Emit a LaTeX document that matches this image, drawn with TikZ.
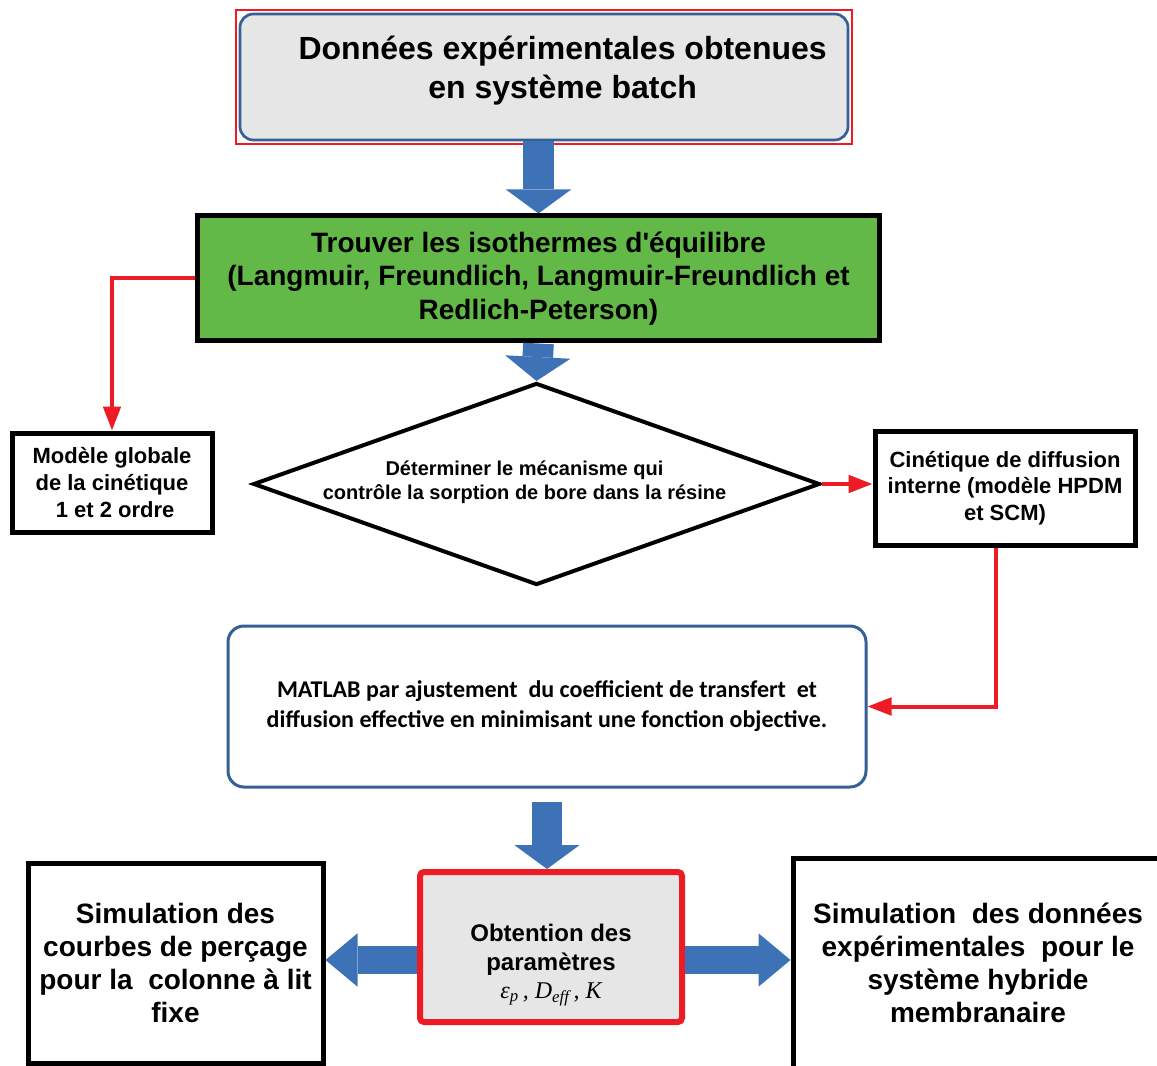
\documentclass[tikz,border=0pt]{standalone}
\usepackage{fontspec}
\setmainfont{Liberation Sans}
\newfontfamily\calibri{Carlito}
\newfontfamily\timesfont{Liberation Serif}
\usetikzlibrary{positioning,arrows.meta,shapes.geometric,calc}

\definecolor{boxgray}{RGB}{230,230,230}
\definecolor{isogreen}{RGB}{99,185,71}
\definecolor{arrowblue}{RGB}{62,114,182}
\definecolor{frameblue}{RGB}{52,96,148}
\definecolor{linered}{RGB}{237,28,36}

\begin{document}
\begin{tikzpicture}[
    x=0.75pt, y=-0.75pt,
    every node/.style={align=center, font=\bfseries},
    datbox/.style={draw=frameblue, line width=2pt, rounded corners=10pt, fill=boxgray, minimum width=456pt, minimum height=94.5pt},
    dattext/.style={font=\bfseries\fontsize{24pt}{29pt}\selectfont, xshift=14pt, yshift=5pt},
    isobox/.style={draw=black, line width=3.75pt, fill=isogreen, minimum width=512pt, minimum height=93.75pt, font=\bfseries\fontsize{21pt}{25pt}\selectfont},
    decision/.style={diamond, draw=black, line width=3pt, fill=white, shape aspect=2.8, minimum width=425pt, minimum height=151.5pt, inner sep=0pt},
    dectext/.style={font=\bfseries\fontsize{15pt}{18pt}\selectfont, xshift=-9pt, yshift=1pt},
    sidebox/.style={draw=black, line width=3.75pt, fill=white, font=\bfseries\fontsize{16.5pt}{20pt}\selectfont},
    matbox/.style={draw=frameblue, line width=2.25pt, rounded corners=12pt, fill=white, minimum width=478.5pt, minimum height=120.75pt, font=\calibri\bfseries\fontsize{18pt}{22.5pt}\selectfont},
    parbox/.style={draw=linered, line width=4.5pt, rounded corners=3pt, fill=boxgray, minimum width=196.5pt, minimum height=112.5pt},
    partext/.style={font=\bfseries\fontsize{18pt}{21.75pt}\selectfont, yshift=-13.5pt},
    simbox/.style={draw=black, line width=3.75pt, fill=white, font=\bfseries\fontsize{21pt}{24.75pt}\selectfont},
    fatarrow/.style={draw=arrowblue, line width=23pt, -{Triangle[length=18pt, width=49pt, line width=0pt]}},
    sidearrow/.style={line width=21pt, -{Triangle[length=24pt, width=40pt, line width=0pt]}},
    redline/.style={draw=linered, line width=3pt, -{Triangle[length=18pt, width=13pt]}}
]
\useasboundingbox (0,0) rectangle (1157,1066);
\clip (0,0) rectangle (1157,1066);
\fill[white] (0,0) rectangle (1157,1066);

% boxes
\node[datbox, label={[dattext]center:Données expérimentales obtenues\\en système batch}] (dat) at (544,77) {};
\draw[linered, line width=1pt] ([shift={(-2pt,2pt)}]dat.north west) rectangle ([shift={(2pt,-2pt)}]dat.south east);
\node[isobox] (iso) at (538.5,278.5) {Trouver les isothermes d\textquotesingle équilibre\\(Langmuir, Freundlich, Langmuir-Freundlich et\\Redlich-Peterson)};
\node[decision, label={[dectext]center:Déterminer le mécanisme qui\\contrôle la sorption de bore dans la résine}] (dec) at (536.5,484) {};
\node[sidebox, minimum width=150pt, minimum height=74.25pt] (mod) at (112,482.5) {Modèle globale\\de la cinétique\\\ 1 et 2 ordre};
\node[sidebox, minimum width=195pt, minimum height=85.5pt] (cin) at (1005,488) {Cinétique de diffusion\\interne (modèle HPDM\\et SCM)};
\node[matbox] (mat) at (547,706.5) {MATLAB par ajustement~ du coefficient de transfert~ et\\diffusion effective en minimisant une fonction objective.};
\node[parbox, label={[partext]center:Obtention des\\paramètres\\[-1pt]{\timesfont\mdseries\itshape ε\textsubscript{p}\,, D\textsubscript{eff}\,, K}}] (par) at (551,947) {};
\node[simbox, minimum width=221.25pt, minimum height=150pt] (simg) at (175.5,963) {Simulation des\\courbes de perçage\\pour la~ colonne à lit\\fixe};
\node[simbox, minimum width=277.5pt, minimum height=157.5pt] (simd) at (978,963) {Simulation~ des données\\expérimentales~ pour le\\système hybride\\membranaire};

% connectors
\draw[fatarrow] (iso.north |- dat.south) -- (iso.north);
\draw[fatarrow] (iso.south) -- (dec.north);
\draw[fatarrow, shorten <=10pt] (mat.south) -- (mat.south |- par.north);
\draw[fatarrow, sidearrow] ([yshift=-9.75pt]par.west) -- ([yshift=-9.75pt]par.west -| simg.east);
\draw[fatarrow, sidearrow] ([yshift=-9.75pt]par.east) -- ([yshift=-9.75pt]par.east -| simd.west);
\draw[redline] (iso.west) -| (mod.north);
\draw[redline] (dec.east) -- (dec.east -| cin.west);
\draw[redline] ([xshift=-7pt]cin.south) |- (mat.east);

\end{tikzpicture}
\end{document}
